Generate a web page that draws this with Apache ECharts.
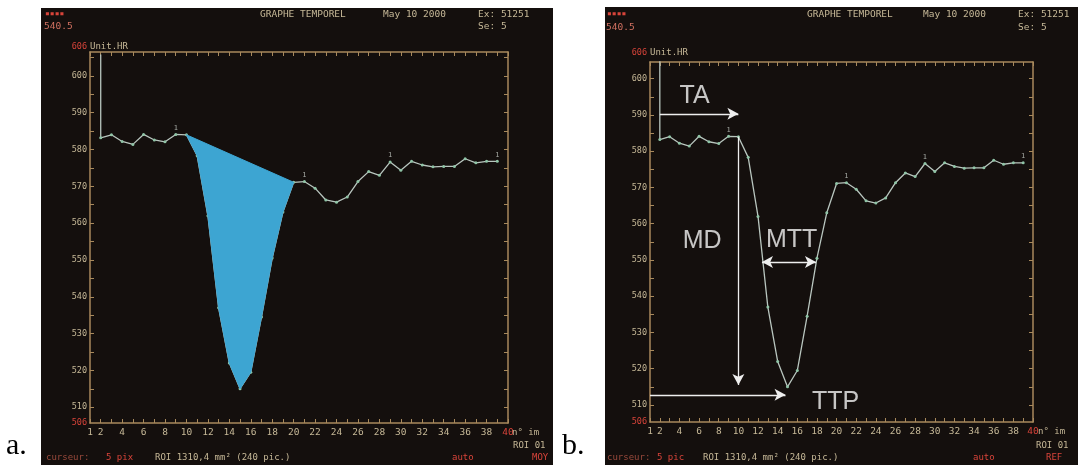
<!DOCTYPE html>
<html><head><meta charset="utf-8">
<script src="https://cdn.jsdelivr.net/npm/echarts@6/dist/echarts.min.js"></script>
<style>html,body{margin:0;padding:0;background:#fff}#c{width:1078px;height:465px}</style>
</head><body><div id="c"></div>
<script>
// ---- data ----
const frameIdx = [2, 2,3,4,5,6,7,8,9,10,11,12,13,14,15,16,17,18,19,20,21,22,23,24,25,26,27,28,29,30,31,32,33,34,35,36,37,38,39];
const signalHR = [605.8, 583.2,584.0,582.2,581.4,584.1,582.6,582.1,584.1,584.0,578.3,562.0,537.0,522.0,515.0,519.5,534.5,550.5,563.0,571.1,571.3,569.5,566.3,565.7,567.1,571.3,574.0,573.0,576.6,574.4,576.8,575.8,575.3,575.4,575.4,577.5,576.4,576.8,576.8];
const fillStart = 10, fillEnd = 20;
const peakMarks = [9, 21, 29, 39];
const xTickLabels = [1,2,4,6,8,10,12,14,16,18,20,22,24,26,28,30,32,34,36,38,40];
const yTickLabels = [510,520,530,540,550,560,570,580,590,600];
const yMinorTicks = [510,515,520,525,530,535,540,545,550,555,560,565,570,575,580,585,590,595,600,605];
const yEndLabels = ['506', '606'];
const yRangeA = [505.7, 606.5];
const yRangeB = [505.3, 604.6];
const annotationNames = ['TA', 'MD', 'MTT', 'TTP'];
const annotationPos = [[4.0, 595.2], [4.33, 555.2], [12.8, 555.5], [17.5, 510.8]];
const arrowTA = [[2, 590.3], [10, 590.3]];
const arrowMD = [[10, 584.0], [10, 515.5]];
const arrowMTT = [[12.4, 549.4], [17.9, 549.4]];
const arrowTTP = [[1, 512.8], [14.8, 512.8]];

// ---- styles ----
const BG = '#140f0d', AX = '#a8895c', TAN = '#c6b897', RED = '#d8443a';
const CURVE = '#b9c6bf', DOT = '#8fc4a6', FILL = '#3da5d2';
const MONO = 'DejaVu Sans Mono';

const pts = frameIdx.map((x, i) => [x, signalHR[i]]);
const peakPts = peakMarks.map(x => [x, signalHR[frameIdx.lastIndexOf(x)]]);

function xAxisCfg(g, pos) {
  return {
    type: 'value', gridIndex: g, min: 1, max: 40, interval: 1, position: pos,
    splitLine: {show: false},
    axisLine: {show: true, lineStyle: {color: AX, width: 1.5}},
    axisTick: {show: true, inside: true, length: 4, lineStyle: {color: AX}},
    axisLabel: pos === 'bottom' ? {
      show: true, fontFamily: MONO, fontSize: 9.5, margin: 5,
      formatter: v => (xTickLabels.indexOf(v) >= 0 ? String(v) : ''),
      color: v => (Number(v) === 40 ? RED : TAN)
    } : {show: false}
  };
}
function yAxisCfg(g, range, pos, lift) {
  const left = pos === 'left';
  const near = (a, b) => Math.abs(Number(a) - b) < 0.01;
  return {
    type: 'value', gridIndex: g, min: range[0], max: range[1], position: pos,
    splitLine: {show: false},
    axisLine: {show: true, lineStyle: {color: AX, width: 1.5}},
    axisTick: {show: true, inside: true, length: 4, customValues: yMinorTicks, lineStyle: {color: AX}},
    axisLabel: left ? {
      show: true, fontFamily: MONO, fontSize: 8.5, margin: 3,
      customValues: [range[0]].concat(yTickLabels, [range[1]]),
      formatter: v => (near(v, range[0]) ? yEndLabels[0] : near(v, range[1]) ? '{top|' + yEndLabels[1] + '}' : String(v)),
      rich: {top: {color: RED, fontFamily: MONO, fontSize: 8.5, padding: [0, 0, lift * 2, 0]}},
      color: v => ((near(v, range[0]) || near(v, range[1])) ? RED : TAN)
    } : {show: false},
    name: left ? 'Unit.HR' : '',
    nameLocation: 'end', nameGap: lift, nameMoveOverlap: false,
    nameTextStyle: {color: TAN, fontFamily: MONO, fontSize: 9, align: 'left', verticalAlign: 'middle'}
  };
}

function curveSeries(xi, yi, extra) {
  return Object.assign({
    type: 'line', xAxisIndex: xi, yAxisIndex: yi, data: pts,
    lineStyle: {color: CURVE, width: 1.3},
    itemStyle: {color: DOT},
    symbol: (v, p) => (p.dataIndex === 0 ? 'none' : 'circle'),
    symbolSize: 3, showAllSymbol: true, animation: false, clip: true, z: 3
  }, extra || {});
}
function peakSeries(xi, yi) {
  return {
    type: 'scatter', xAxisIndex: xi, yAxisIndex: yi, data: peakPts, symbolSize: 0,
    label: {show: true, formatter: '1', position: 'top', distance: 3, color: '#c9cfc8', fontSize: 7, fontFamily: MONO},
    animation: false, z: 4, silent: true
  };
}

const arrowStyle = {color: '#eeeeee', width: 1.3, type: 'solid'};
function ml(a, both) {
  const s = {coord: a[0]};
  if (both) s.symbol = 'arrow';
  return [s, {coord: a[1]}];
}

function txt(t, x, y, fill, size, font) {
  return {type: 'text', z: 10, style: {text: t, x: x, y: y, fill: fill, font: (size || 9.5) + 'px ' + (font || '"DejaVu Sans Mono"'), verticalAlign: 'middle'}};
}

const graphics = [
  {type: 'rect', z: -100, shape: {x: 41, y: 8, width: 512, height: 457}, style: {fill: BG}},
  {type: 'rect', z: -100, shape: {x: 605, y: 7, width: 473, height: 458}, style: {fill: BG}},
  // panel a texts
  txt('\u25AA\u25AA\u25AA\u25AA', 45, 14, RED, 8),
  txt('540.5', 44, 27, '#d07060', 9.5),
  txt('GRAPHE TEMPOREL', 260, 15, TAN),
  txt('May 10 2000', 383, 15, TAN),
  txt('Ex: 51251', 478, 15, TAN),
  txt('Se: 5', 478, 27, TAN),
  txt('n\u00B0 im', 512, 433, TAN, 9),
  txt('ROI 01', 513, 446, TAN, 9),
  txt('curseur:', 46, 458, '#9a4a3c', 9),
  txt('5 pix', 106, 458, RED, 9),
  txt('ROI 1310,4 mm\u00B2 (240 pic.)', 155, 458, TAN, 9),
  txt('auto', 452, 458, RED, 9),
  txt('MOY', 532, 458, RED, 9),
  // panel b texts
  txt('\u25AA\u25AA\u25AA\u25AA', 607, 14, RED, 8),
  txt('540.5', 606, 28, '#d07060', 9.5),
  txt('GRAPHE TEMPOREL', 807, 15, TAN),
  txt('May 10 2000', 923, 15, TAN),
  txt('Ex: 51251', 1018, 15, TAN),
  txt('Se: 5', 1018, 28, TAN),
  txt('n\u00B0 im', 1038, 432, TAN, 9),
  txt('ROI 01', 1036, 446, TAN, 9),
  txt('curseur:', 607, 458, '#9a4a3c', 9),
  txt('5 pic', 657, 458, RED, 9),
  txt('ROI 1310,4 mm\u00B2 (240 pic.)', 703, 458, TAN, 9),
  txt('auto', 973, 458, RED, 9),
  txt('REF', 1046, 458, RED, 9),
  // sub-figure letters
  txt('a.', 6, 446, '#000', 30, '"Liberation Serif"'),
  txt('b.', 562, 446, '#000', 30, '"Liberation Serif"')
];

const option = {
  backgroundColor: '#ffffff',
  animation: false,
  graphic: {elements: graphics},
  grid: [
    {left: 90, top: 52, width: 418, height: 371, outerBoundsMode: 'none', containLabel: false},
    {left: 650, top: 62, width: 383, height: 360, outerBoundsMode: 'none', containLabel: false}
  ],
  xAxis: [xAxisCfg(0, 'bottom'), xAxisCfg(0, 'top'), xAxisCfg(1, 'bottom'), xAxisCfg(1, 'top')],
  yAxis: [yAxisCfg(0, yRangeA, 'left', 5), yAxisCfg(0, yRangeA, 'right', 5), yAxisCfg(1, yRangeB, 'left', 9), yAxisCfg(1, yRangeB, 'right', 9)],
  series: [
    curveSeries(0, 0),
    {
      type: 'custom', xAxisIndex: 0, yAxisIndex: 0, data: [[fillStart, fillEnd]], z: 5, animation: false,
      renderItem: (params, api) => {
        const poly = [];
        for (let i = 1; i < frameIdx.length; i++) {
          if (frameIdx[i] >= fillStart && frameIdx[i] <= fillEnd) poly.push(api.coord([frameIdx[i], signalHR[i]]));
        }
        return {type: 'polygon', shape: {points: poly}, style: {fill: FILL, stroke: FILL, lineWidth: 1}};
      }
    },
    peakSeries(0, 0),
    curveSeries(2, 2, {
      markLine: {
        silent: true, animation: false, symbol: ['none', 'arrow'], symbolSize: [9, 11],
        label: {show: false}, lineStyle: arrowStyle,
        data: [ml(arrowTA), ml(arrowMD), ml(arrowMTT, true), ml(arrowTTP)]
      }
    }),
    peakSeries(2, 2),
    {
      type: 'scatter', xAxisIndex: 2, yAxisIndex: 2, symbolSize: 0, silent: true, animation: false, z: 6,
      data: annotationNames.map((n, i) => ({name: n, value: annotationPos[i]})),
      label: {show: true, position: 'right', distance: 0, formatter: p => p.name, color: '#f4f4f4',
              fontFamily: 'Liberation Sans', fontSize: 25, verticalAlign: 'middle'}
    }
  ]
};
const chart = echarts.init(document.getElementById('c'), null, {renderer: 'canvas'});
chart.setOption(option);
</script></body></html>
